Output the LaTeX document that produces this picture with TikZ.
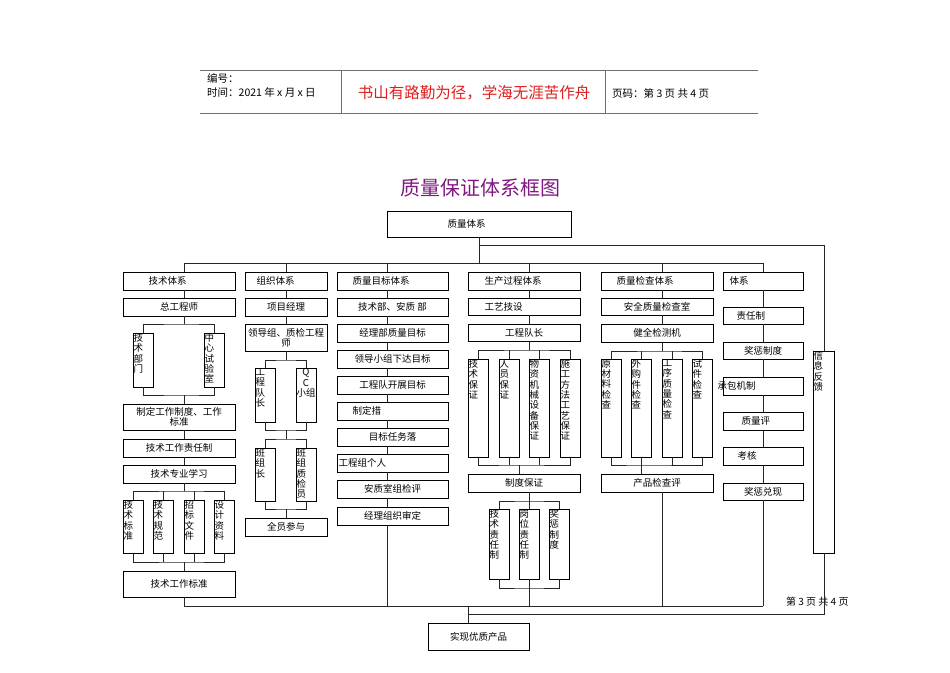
\documentclass[tikz,border=0pt]{standalone}
\usepackage{fontspec}
\setmainfont{Noto Sans CJK SC}
\newfontfamily\cjk{Noto Sans CJK SC}
\usetikzlibrary{shadows}
\definecolor{mottored}{RGB}{222,30,30}
\definecolor{titlepurple}{RGB}{128,24,128}
\definecolor{hdrgray}{RGB}{110,110,110}
\tikzset{
  bx/.style={draw=black, line width=0.7pt, fill=white, inner sep=0pt,
    font=\cjk\fontsize{9.5}{10.3}\selectfont,
    drop shadow={shadow xshift=1.3pt, shadow yshift=-1.3pt, fill=black!45, opacity=1}},
  lbl/.style={font=\cjk\fontsize{9.5}{10.3}\selectfont, inner sep=0.8pt},
  ln/.style={draw=black!85, line width=0.7pt},
}
% horizontal box, centred text: name x1 x2 y1 y2 text
\newcommand\mkH[6]{\node[bx, minimum width={(#3-#2)*1pt}, minimum height={(#5-#4)*1pt}, align=center] (#1) at ({(#2+#3)/2},{(#4+#5)/2}) {#6};}
% horizontal box, text from left: name x1 x2 y1 y2 offset text
\newcommand\mkL[7]{\node[bx, minimum width={(#3-#2)*1pt}, minimum height={(#5-#4)*1pt}, label={[lbl,anchor=west,xshift=#6pt]west:#7}] (#1) at ({(#2+#3)/2},{(#4+#5)/2}) {};}
% vertical box, text stacked from the top: name x1 x2 y1 y2 text
\newcommand\mkV[6]{\node[bx, minimum width={(#3-#2)*1pt}, minimum height={(#5-#4)*1pt}, label={[lbl,anchor=north west,align=left]north west:#6}] (#1) at ({(#2+#3)/2},{(#4+#5)/2}) {};}
\begin{document}
\begin{tikzpicture}[x=1pt,y=-1pt]
\useasboundingbox (0,0) rectangle (950,672);
% ---------- page header ----------
\draw[hdrgray, line width=0.8pt] (200,70) -- (758,70);
\draw[hdrgray, line width=0.8pt] (200,113) -- (758,113);
\draw[hdrgray, line width=0.8pt] (341,70) -- (341,113);
\draw[hdrgray, line width=0.8pt] (605,70) -- (605,113);
\node[anchor=west, inner sep=0pt, font=\cjk\fontsize{10.5}{12}\selectfont] (num) at (207,78) {编号：};
\node[anchor=west, inner sep=0pt, font=\cjk\fontsize{10.5}{12}\selectfont] (tim) at (207,92) {时间：2021 年 x 月 x 日};
\node[inner sep=0pt, font=\cjk\fontsize{15.5}{17}\selectfont, text=mottored] (motto) at (474,93) {书山有路勤为径，学海无涯苦作舟};
\node[anchor=west, inner sep=0pt, font=\cjk\fontsize{10.5}{12}\selectfont] (pg) at (612,93) {页码：第 3 页 共 4 页};
% ---------- title ----------
\node[inner sep=0pt, font=\cjk\fontsize{20}{22}\selectfont, text=titlepurple] (title) at (480,188) {质量保证体系框图};
% ---------- top box and headers ----------
\mkL{top}{387}{571}{211}{237}{60}{质量体系}
\mkL{hT}{123}{235}{272}{290}{25}{技术体系}
\mkL{hZ}{245}{327}{272}{290}{11}{组织体系}
\mkL{hM}{337}{448}{272}{290}{15}{质量目标体系}
\mkL{hP}{468}{580}{272}{290}{16}{生产过程体系}
\mkL{hQ}{601}{713}{272}{290}{15}{质量检查体系}
\mkL{hJ}{723}{803}{272}{290}{6}{体系}
% ---------- column T ----------
\mkH{t1}{123}{235}{298}{316}{总工程师}
\mkV{t2a}{133}{153}{333}{387}{技\\术\\部\\门}
\mkV{t2b}{204}{224}{333}{387}{中\\心\\试\\验\\室}
\mkH{t3}{123}{235}{404}{430}{制定工作制度、工作\\标准}
\mkH{t4}{123}{235}{439}{457}{技术工作责任制}
\mkH{t5}{123}{235}{465}{483}{技术专业学习}
\mkV{t6a}{123}{143}{500}{553}{技\\术\\标\\准}
\mkV{t6b}{153}{173}{500}{553}{技\\术\\规\\范}
\mkV{t6c}{184}{204}{500}{553}{招\\标\\文\\件}
\mkV{t6d}{214}{234}{500}{553}{设\\计\\资\\料}
\mkH{t7}{123}{235}{571}{597}{技术工作标准}
% ---------- column Z ----------
\mkH{z1}{245}{327}{298}{316}{项目经理}
\mkH{z2}{245}{327}{324}{351}{领导组、质检工程\\师}
\mkV{z3a}{255}{275}{368}{422}{工\\程\\队\\长}
\node[bx, minimum width=20pt, minimum height=54pt, label={[lbl,anchor=north,align=center]north:Q\\C\\小组}] (z3b) at (306,395) {};
\mkV{z4a}{255}{275}{448}{501}{班\\组\\长}
\mkV{z4b}{296}{316}{448}{501}{班\\组\\质\\检\\员}
\mkH{z5}{245}{327}{518}{536}{全员参与}
% ---------- column M ----------
\mkH{m1}{337}{448}{298}{316}{技术部、安质\ 部}
\mkH{m2}{337}{448}{324}{342}{经理部质量目标}
\mkH{m3}{337}{448}{350}{368}{领导小组下达目标}
\mkH{m4}{337}{448}{376}{394}{工程队开展目标}
\mkL{m5}{337}{448}{402}{420}{15}{制定措}
\mkH{m6}{337}{448}{428}{446}{目标任务落}
\mkL{m7}{337}{448}{454}{472}{1}{工程组个人}
\mkH{m8}{337}{448}{480}{498}{安质室组检评}
\mkH{m9}{337}{448}{507}{525}{经理组织审定}
% ---------- column P ----------
\mkL{p1}{468}{580}{298}{315}{16}{工艺技设}
\mkH{p2}{468}{580}{324}{341}{工程队长}
\mkV{p3a}{468}{488}{359}{457}{技\\术\\保\\证}
\mkV{p3b}{499}{519}{359}{457}{人\\员\\保\\证}
\mkV{p3c}{529}{549}{359}{457}{物\\资\\机\\械\\设\\备\\保\\证}
\mkV{p3d}{560}{580}{359}{457}{施\\工\\方\\法\\工\\艺\\保\\证}
\mkH{p4}{468}{580}{474}{492}{制度保证}
\mkV{p5a}{489}{509}{509}{579}{技\\术\\责\\任\\制}
\mkV{p5b}{519}{539}{509}{579}{岗\\位\\责\\任\\制}
\mkV{p5c}{549}{569}{509}{579}{奖\\惩\\制\\度}
% ---------- column Q ----------
\mkH{q1}{601}{713}{298}{315}{安全质量检查室}
\mkH{q2}{601}{713}{324}{342}{健全检测机}
\mkV{q3a}{601}{621}{359}{457}{原\\材\\料\\检\\查}
\mkV{q3b}{631}{651}{359}{457}{外\\购\\件\\检\\查}
\mkV{q3c}{662}{682}{359}{457}{工\\序\\质\\量\\检\\查}
\mkV{q3d}{692}{712}{359}{457}{试\\件\\检\\查}
\mkH{q4}{601}{713}{474}{492}{产品检查评}
% ---------- column J ----------
\mkL{j1}{723}{803}{307}{324}{13}{责任制}
\mkH{j2}{723}{803}{342}{359}{奖惩制度}
\mkL{j3}{723}{803}{377}{395}{-6}{承包机制}
\mkL{j4}{723}{803}{412}{430}{18}{质量评}
\mkL{j5}{723}{803}{447}{465}{14}{考核}
\mkH{j6}{723}{803}{483}{500}{奖惩兑现}
% ---------- feedback and result ----------
\mkV{fb}{813}{834}{351}{553}{信\\息\\反\\馈}
\mkH{fin}{428}{529}{623}{650}{实现优质产品}
\node[anchor=west, inner sep=0pt, font=\cjk\fontsize{10}{12}\selectfont] (pgb) at (786,602) {第 3 页 共 4 页};
% ---------- named positions ----------
\coordinate (xT) at (184,0);
\coordinate (xZ) at (286,0);
\coordinate (xM) at (387,0);
\coordinate (xP) at (529,0);
\coordinate (xQ) at (662,0);
\coordinate (xJ) at (763,0);
\coordinate (xF) at (824,0);
\coordinate (xO) at (468,0);
\coordinate (busTop) at (0,263);
\coordinate (fbTop) at (0,245);
\coordinate (busB) at (0,606);
\coordinate (busF) at (0,614);
% ---------- top connectors ----------
\draw[ln] (top.south) -- (top.south |- busTop);
\draw[ln] (xT |- busTop) -- (xJ |- busTop);
\foreach \c/\h in {xT/hT, xZ/hZ, xM/hM, xP/hP, xQ/hQ, xJ/hJ}
  \draw[ln] (\c |- busTop) -- (\h.north -| \c);
\draw[ln] (top.south |- fbTop) -- (xF |- fbTop) -- (fb.north -| xF);
\draw[ln] (fb.south -| xF) -- (xF |- busF) -- (xO |- busF);
\draw[ln] (xT |- busB) -- (xJ |- busB);
\draw[ln] (xO |- busB) -- (fin.north -| xO);
% ---------- column T ----------
\coordinate (tj1) at (184,324);
\coordinate (tj2) at (184,395);
\coordinate (tj3) at (184,491);
\coordinate (tj4) at (184,562);
\draw[ln] (hT.south -| xT) -- (t1.north -| xT);
\draw[ln] (t1.south -| xT) -- (tj1);
\draw[ln] (t2a.north) |- (tj1) -| (t2b.north);
\draw[ln] (t2a.south) |- (tj2) -| (t2b.south);
\draw[ln] (tj2) -- (t3.north -| xT);
\draw[ln] (t3.south -| xT) -- (t4.north -| xT);
\draw[ln] (t4.south -| xT) -- (t5.north -| xT);
\draw[ln] (t5.south -| xT) -- (tj3);
\draw[ln] (t6a.north) |- (tj3) -| (t6d.north);
\draw[ln] (t6b.north) -- (t6b.north |- tj3);
\draw[ln] (t6c.north) -- (t6c.north |- tj3);
\draw[ln] (t6a.south) |- (tj4) -| (t6d.south);
\draw[ln] (t6b.south) -- (t6b.south |- tj4);
\draw[ln] (t6c.south) -- (t6c.south |- tj4);
\draw[ln] (tj4) -- (t7.north -| xT);
\draw[ln] (t7.south -| xT) -- (xT |- busB);
% ---------- column Z ----------
\coordinate (zj1) at (286,360);
\coordinate (zj2) at (286,430);
\coordinate (zj3) at (286,439);
\coordinate (zj4) at (286,509);
\draw[ln] (hZ.south -| xZ) -- (z1.north -| xZ);
\draw[ln] (z1.south -| xZ) -- (z2.north -| xZ);
\draw[ln] (z2.south -| xZ) -- (zj1);
\draw[ln] (z3a.north) |- (zj1) -| (z3b.north);
\draw[ln] (z3a.south) |- (zj2) -| (z3b.south);
\draw[ln] (zj2) -- (zj3);
\draw[ln] (z4a.north) |- (zj3) -| (z4b.north);
\draw[ln] (z4a.south) |- (zj4) -| (z4b.south);
\draw[ln] (zj4) -- (z5.north -| xZ);
% ---------- column M ----------
\foreach \a/\b in {hM/m1, m1/m2, m2/m3, m3/m4, m4/m5, m5/m6, m6/m7, m7/m8, m8/m9}
  \draw[ln] (\a.south -| xM) -- (\b.north -| xM);
\draw[ln] (m9.south -| xM) -- (xM |- busB);
% ---------- column P ----------
\coordinate (pj1) at (529,350);
\coordinate (pj2) at (519,465);
\coordinate (pj3) at (529,501);
\coordinate (pj4) at (529,588);
\draw[ln] (hP.south -| xP) -- (p1.north -| xP);
\draw[ln] (p1.south -| xP) -- (p2.north -| xP);
\draw[ln] (p2.south -| xP) -- (pj1);
\draw[ln] (p3a.north) |- (pj1) -| (p3d.north);
\draw[ln] (p3b.north) -- (p3b.north |- pj1);
\draw[ln] (p3c.north) -- (p3c.north |- pj1);
\draw[ln] (p3a.south) |- (pj2) -| (p3d.south);
\draw[ln] (p3b.south) -- (p3b.south |- pj2);
\draw[ln] (p3c.south) -- (p3c.south |- pj2);
\draw[ln] (pj2) -- (p4.north -| pj2);
\draw[ln] (p4.south -| xP) -- (pj3);
\draw[ln] (p5a.north) |- (pj3) -| (p5c.north);
\draw[ln] (p5b.north) -- (pj3);
\draw[ln] (p5a.south) |- (pj4) -| (p5c.south);
\draw[ln] (p5b.south) -- (pj4);
\draw[ln] (pj4) -- (xP |- busB);
% ---------- column Q ----------
\coordinate (qj1) at (662,351);
\coordinate (qj2) at (641,465);
\draw[ln] (hQ.south -| xQ) -- (q1.north -| xQ);
\draw[ln] (q1.south -| xQ) -- (q2.north -| xQ);
\draw[ln] (q2.south -| xQ) -- (qj1);
\draw[ln] (q3a.north) |- (qj1) -| (q3d.north);
\draw[ln] (q3b.north) -- (q3b.north |- qj1);
\draw[ln] (q3c.north) -- (q3c.north |- qj1);
\draw[ln] (q3a.south) |- (qj2) -| (q3d.south);
\draw[ln] (q3b.south) -- (q3b.south |- qj2);
\draw[ln] (q3c.south) -- (q3c.south |- qj2);
\draw[ln] (qj2) -- (q4.north -| qj2);
\draw[ln] (q4.south -| xQ) -- (xQ |- busB);
% ---------- column J ----------
\foreach \a/\b in {hJ/j1, j1/j2, j2/j3, j3/j4, j4/j5, j5/j6}
  \draw[ln] (\a.south -| xJ) -- (\b.north -| xJ);
\draw[ln] (j6.south -| xJ) -- (xJ |- busB);
\end{tikzpicture}
\end{document}
